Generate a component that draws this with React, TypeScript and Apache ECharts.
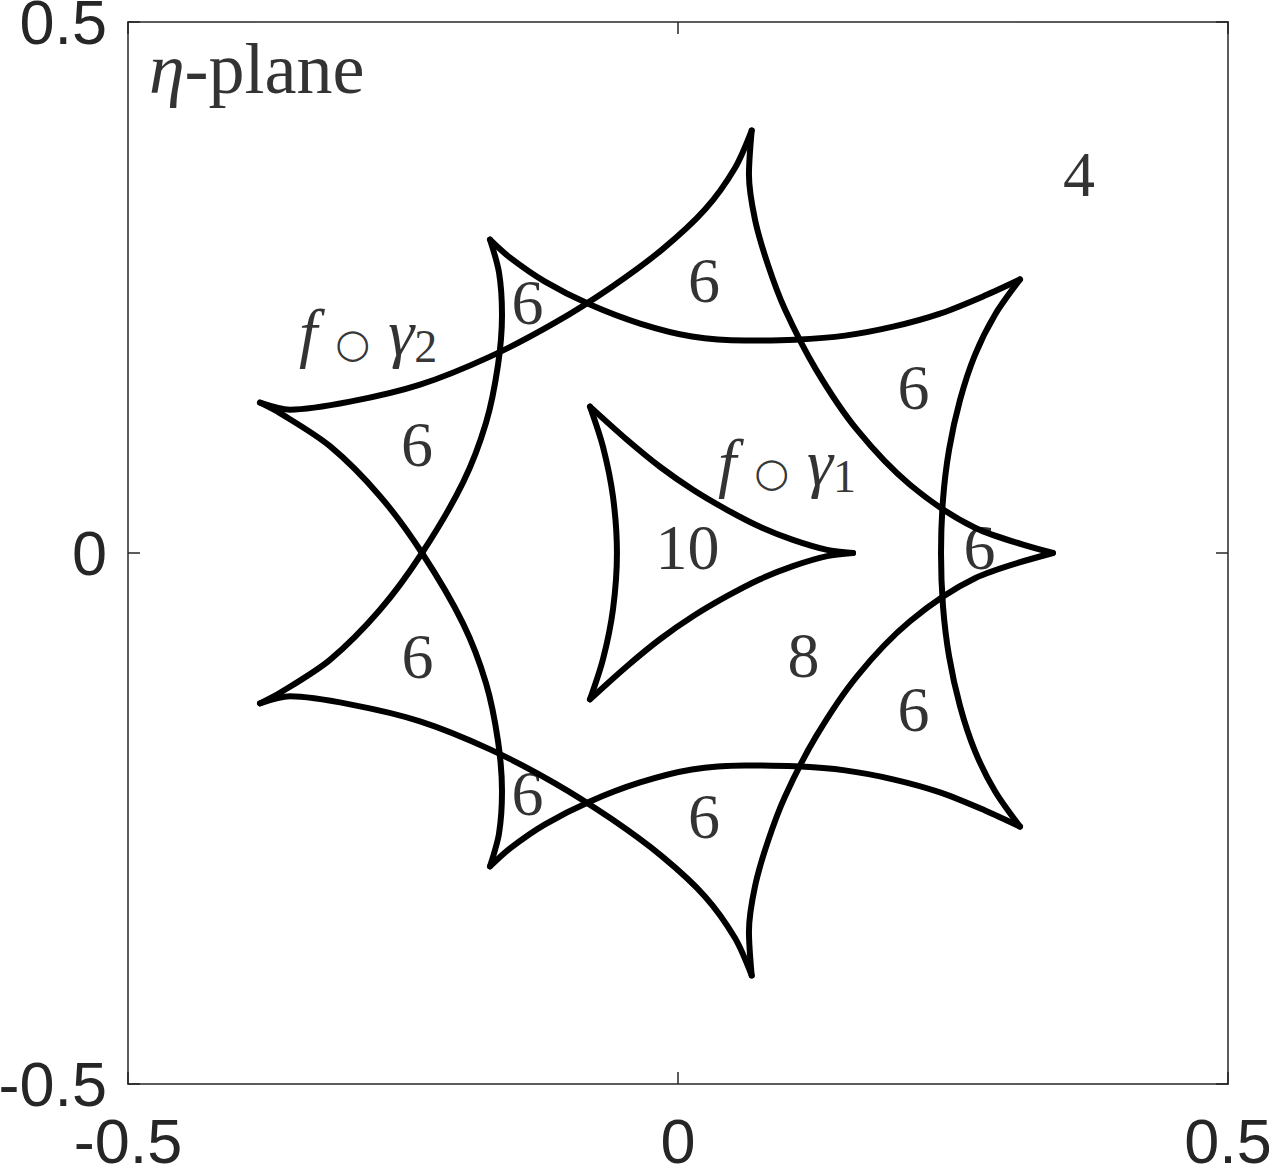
import React, { useEffect, useRef } from "react";
import * as echarts from "echarts";

// ---- axis ----
const axisMin = -0.5;
const axisMax = 0.5;
const axisStep = 0.5;

// ---- outer curve f∘γ2 : nine arcs between its cusps ----
const arcTopToRight = [
  [0.067, 0.3978], [0.0645, 0.3563], [0.07, 0.3139], [0.0818, 0.2713], [0.0973, 0.2292],
  [0.1255, 0.1727], [0.1627, 0.1161], [0.2109, 0.0643], [0.27, 0.0238], [0.3409, 0],
];
const arcRightToBottom = [
  [0.3409, 0], [0.27, -0.0238], [0.2109, -0.0643], [0.1627, -0.1161], [0.1255, -0.1727],
  [0.0973, -0.2292], [0.0818, -0.2713], [0.07, -0.3139], [0.0645, -0.3563], [0.067, -0.3978],
];
const arcUpperRightToUpperLeft = [
  [0.3109, 0.2576], [0.2791, 0.2424], [0.2382, 0.2254], [0.1955, 0.2131], [0.1518, 0.2047],
  [0.1064, 0.2009], [0.0609, 0.2], [0.0127, 0.2038], [-0.0345, 0.216], [-0.08, 0.2339],
  [-0.1209, 0.2555], [-0.1527, 0.2781], [-0.1709, 0.2951],
];
const arcLowerRightToLowerLeft = [
  [0.3109, -0.2576], [0.2791, -0.2424], [0.2382, -0.2254], [0.1955, -0.2131], [0.1518, -0.2047],
  [0.1064, -0.2009], [0.0609, -0.2], [0.0127, -0.2038], [-0.0345, -0.216], [-0.08, -0.2339],
  [-0.1209, -0.2555], [-0.1527, -0.2781], [-0.1709, -0.2951],
];
const arcRightVertical = [
  [0.3109, 0.2576], [0.2882, 0.2244], [0.27, 0.1866], [0.2564, 0.1442], [0.2464, 0.0971],
  [0.2409, 0.0502], [0.2391, 0], [0.2409, -0.0502], [0.2464, -0.0971], [0.2564, -0.1442],
  [0.27, -0.1866], [0.2882, -0.2244], [0.3109, -0.2576],
];
const arcTopToLeftUpper = [
  [0.067, 0.3978], [0.0518, 0.3626], [0.0245, 0.3234], [-0.0145, 0.2857], [-0.06, 0.2508],
  [-0.1118, 0.2169], [-0.1709, 0.1849], [-0.2345, 0.1585], [-0.2982, 0.1425], [-0.3527, 0.135],
  [-0.38, 0.1416],
];
const arcBottomToLeftLower = [
  [0.067, -0.3978], [0.0518, -0.3626], [0.0245, -0.3234], [-0.0145, -0.2857], [-0.06, -0.2508],
  [-0.1118, -0.2169], [-0.1709, -0.1849], [-0.2345, -0.1585], [-0.2982, -0.1425], [-0.3527, -0.135],
  [-0.38, -0.1416],
];
const arcUpperLeftToLeftLower = [
  [-0.1709, 0.2951], [-0.1627, 0.264], [-0.16, 0.2244], [-0.1636, 0.1773], [-0.1745, 0.1227],
  [-0.1955, 0.0662], [-0.2327, 0], [-0.2709, -0.0535], [-0.3164, -0.1006], [-0.3618, -0.1317],
  [-0.38, -0.1416],
];
const arcLeftUpperToLowerLeft = [
  [-0.38, 0.1416], [-0.3618, 0.1317], [-0.3164, 0.1006], [-0.2709, 0.0535], [-0.2327, 0],
  [-0.1955, -0.0662], [-0.1745, -0.1227], [-0.1636, -0.1773], [-0.16, -0.2244], [-0.1627, -0.264],
  [-0.1709, -0.2951],
];

// ---- inner curve f∘γ1 : three arcs ----
const innerUpper = [
  [-0.08, 0.1378], [-0.0464, 0.1066], [-0.0164, 0.0812], [0.0136, 0.0596], [0.0445, 0.0407],
  [0.0745, 0.0247], [0.1045, 0.0124], [0.1355, 0.003], [0.1591, 0],
];
const innerLeft = [
  [-0.08, 0.1378], [-0.0682, 0.1001], [-0.0591, 0.053], [-0.0555, 0], [-0.0591, -0.053],
  [-0.0682, -0.1001], [-0.08, -0.1378],
];
const innerLower = [
  [-0.08, -0.1378], [-0.0464, -0.1066], [-0.0164, -0.0812], [0.0136, -0.0596], [0.0445, -0.0407],
  [0.0745, -0.0247], [0.1045, -0.0124], [0.1355, -0.003], [0.1591, 0],
];

// ---- winding-number labels ----
const regionText = ["6", "6", "6", "6", "6", "6", "6", "6", "6", "10", "8", "4"];
const regionX = [0.0236, -0.1368, -0.2373, -0.2368, 0.2141, 0.2741, 0.2141, -0.1368, 0.0236, 0.0086, 0.1141, 0.3645];
const regionY = [0.2566, 0.2359, 0.102, -0.097, 0.1557, 0.005, -0.147, -0.2267, -0.2484, 0.005, -0.0967, 0.3564];

// ---- curve names ----
const curveNameX = [0.0991, -0.2818];
const curveNameY = [0.0854, 0.2074];
const curveNameSub = ["1", "2"];

const planeLabel = "-plane";
const planeX = -0.481;
const planeY = 0.4557;

const SERIF = "'Liberation Serif', 'DejaVu Serif', serif";
const SANS = "'Liberation Sans', Arial, Helvetica, sans-serif";
const AXIS_COLOR = "#262626";

const arcs = [
  arcTopToRight, arcRightToBottom, arcUpperRightToUpperLeft, arcLowerRightToLowerLeft,
  arcRightVertical, arcTopToLeftUpper, arcBottomToLeftLower, arcUpperLeftToLeftLower,
  arcLeftUpperToLowerLeft, innerUpper, innerLeft, innerLower,
];

const rich = {
  it: { fontFamily: SERIF, fontStyle: "italic", fontSize: 66, lineHeight: 84, color: "#000" },
  rm: { fontFamily: SERIF, fontSize: 64, lineHeight: 84, color: "#000" },
  op: { fontFamily: "'DejaVu Sans', sans-serif", fontSize: 40, lineHeight: 40, padding: [20, 18, 0, 18], color: "#000" },
  sub: { fontFamily: SERIF, fontSize: 46, lineHeight: 46, padding: [28, 0, 0, 0], color: "#000" },
  big: { fontFamily: SERIF, fontSize: 72, lineHeight: 84, color: "#000" },
  bigit: { fontFamily: SERIF, fontStyle: "italic", fontSize: 72, lineHeight: 84, color: "#000" },
};

function makeAxis(pos: string, showLabel: boolean, isX: boolean) {
  return {
    type: "value",
    position: pos,
    min: axisMin,
    max: axisMax,
    interval: axisStep,
    axisLine: { show: true, onZero: false, lineStyle: { color: AXIS_COLOR, width: 1.5 } },
    axisTick: { show: true, inside: true, length: 12, lineStyle: { color: AXIS_COLOR, width: 1.5 } },
    splitLine: { show: false },
    axisLabel: {
      show: showLabel,
      color: AXIS_COLOR,
      fontSize: 63,
      fontFamily: SANS,
      margin: isX ? 25 : 21,
      showMinLabel: true,
      showMaxLabel: true,
      formatter: (v: number) => String(v),
    },
  };
}

export default function App() {
  const ref = useRef<HTMLDivElement>(null);
  useEffect(() => {
    const chart = echarts.init(ref.current!, null, { renderer: "svg" });
    const lineSeries = arcs.map((arc) => ({
      type: "line",
      data: arc,
      showSymbol: false,
      symbol: "none",
      smooth: 0.3,
      clip: false,
      silent: true,
      lineStyle: { color: "#000", width: 6, cap: "round", join: "round" },
      z: 2,
    }));
    const labelData: any[] = regionText.map((t, i) => ({
      value: [regionX[i], regionY[i]],
      label: { formatter: "{rm|" + t + "}" },
    }));
    curveNameSub.forEach((s, i) => {
      labelData.push({
        value: [curveNameX[i], curveNameY[i]],
        label: { formatter: "{it|f}{op|○}{it|γ}{sub|" + s + "}" },
      });
    });
    const planeData = [{ value: [planeX, planeY] }];
    const option = {
      animation: false,
      backgroundColor: "#ffffff",
      grid: { left: 128, right: 41, top: 22, bottom: 81, containLabel: false, outerBoundsMode: "none" },
      xAxis: [makeAxis("bottom", true, true), makeAxis("top", false, true)],
      yAxis: [makeAxis("left", true, false), makeAxis("right", false, false)],
      series: [
        ...lineSeries,
        {
          type: "scatter",
          data: labelData,
          symbolSize: 0,
          silent: true,
          z: 5,
          label: { show: true, position: "inside", color: "#000", rich },
        },
        {
          type: "scatter",
          data: planeData,
          symbolSize: 0,
          silent: true,
          z: 5,
          label: {
            show: true,
            position: "right",
            distance: 0,
            formatter: "{bigit|η}{big|" + planeLabel + "}",
            rich,
          },
        },
      ],
    };
    chart.setOption(option as any);
    return () => chart.dispose();
  }, []);
  return (
    <div
      ref={ref}
      style={{ position: "absolute", left: 0, top: 0, width: 1269, height: 1165, background: "#fff" }}
    />
  );
}
